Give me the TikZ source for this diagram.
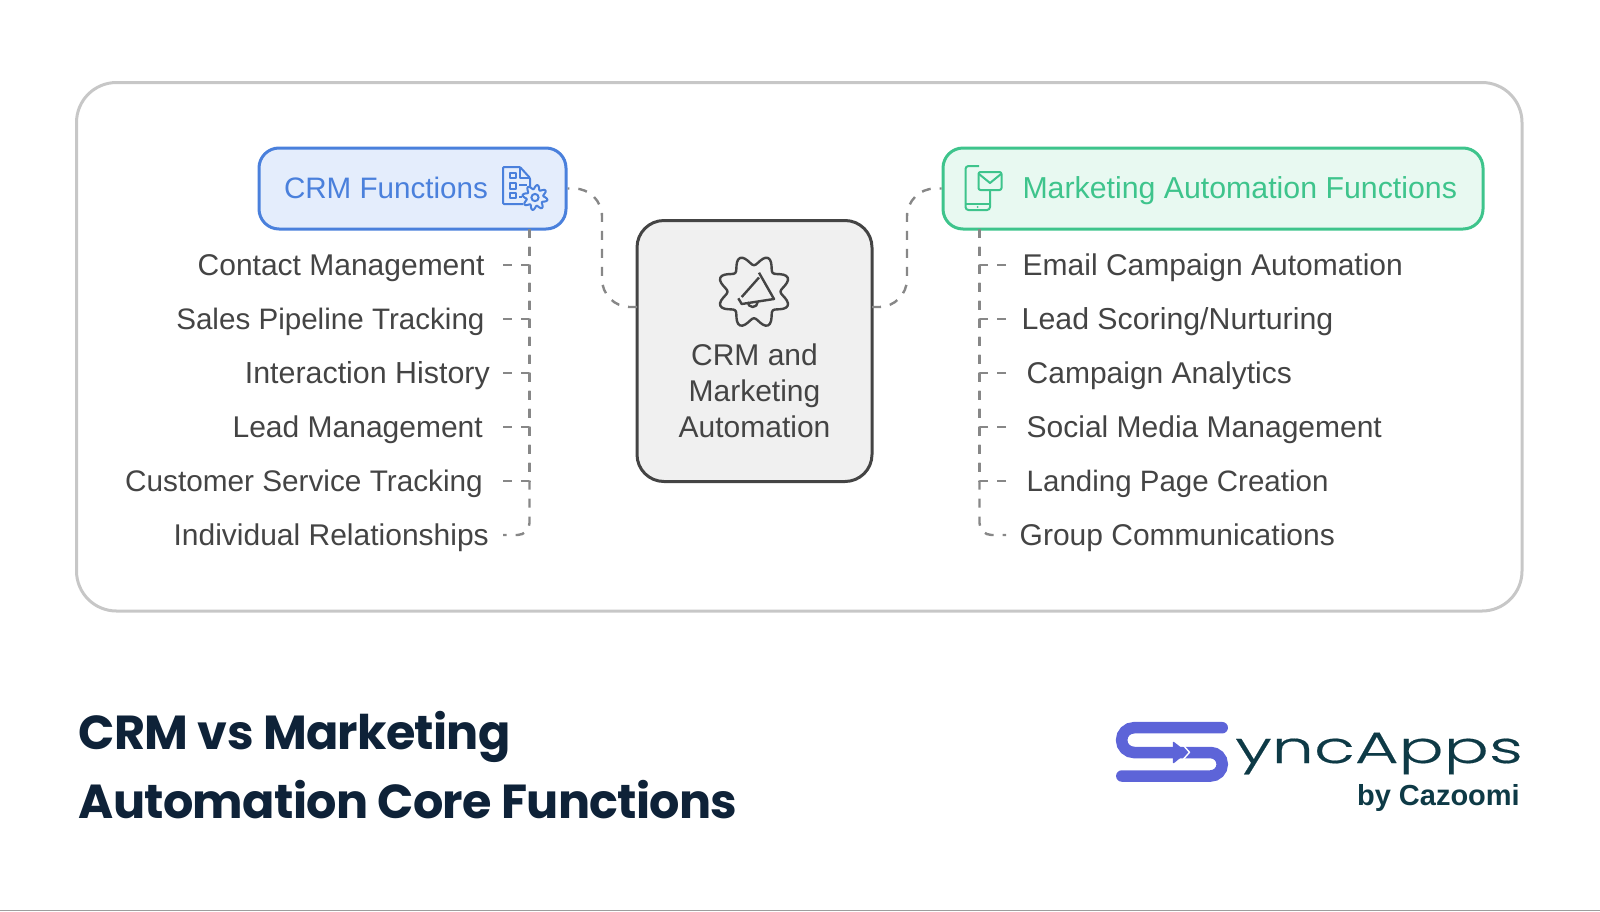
\documentclass[tikz,border=0pt]{standalone}
\usepackage{fontspec}
\setmainfont{Liberation Sans}
\newfontfamily\titlefont[LetterSpace=-1.5]{Poppins}
\newfontfamily\logofont[FakeStretch=1.52,FakeBold=0.4]{Poppins Light}
\definecolor{crmblue}{HTML}{4A80DC}
\definecolor{crmfill}{HTML}{E4EDFC}
\definecolor{mktgreen}{HTML}{3EC48C}
\definecolor{mktfill}{HTML}{E8F9F1}
\definecolor{hubfill}{HTML}{F0F0F0}
\definecolor{ink}{HTML}{444444}
\definecolor{navy}{HTML}{0E2238}
\definecolor{teal}{HTML}{0E3A46}
\definecolor{logoblue}{HTML}{5D64D8}
\begin{document}
\begin{tikzpicture}[x=1pt,y=-1pt]
  \tikzset{
      every node/.append style = {
          font = \fontsize{30}{36}\selectfont
      },
      fs/.style = {
          font = \fontsize{#1}{36}\selectfont
      },
      frame/.style = {
          draw = black!22, line width = 3pt, rounded corners = 40pt
      },
      link/.style = {
          draw = black!47, line width = 2.4pt, dash pattern = on 9pt off 9pt
      },
      elbow/.style = {
          to path = {-| (\tikztotarget)}
      },
      crmbox/.style = {
          draw = crmblue, fill = crmfill, text = crmblue, line width = 3pt,
          rounded corners = 20pt, minimum height = 81pt, inner xsep = 25pt,
          text width = 257pt, align = flush left, text height = 25pt, text depth = 5pt,
          fs = 29.6
      },
      mktbox/.style = {
          draw = mktgreen, fill = mktfill, text = mktgreen, line width = 3pt,
          rounded corners = 20pt, minimum height = 81pt, inner xsep = 26pt,
          text width = 488pt, align = flush right, text height = 25pt, text depth = 5pt,
          fs = 30.3
      },
      hubbox/.style = {
          draw = ink, fill = hubfill, line width = 3pt, rounded corners = 27pt,
          minimum width = 235pt, minimum height = 261pt
      },
      item/.style = {
          text = ink, text height = 25pt, text depth = 4pt, inner ysep = 0pt
      },
      itemleft/.style = {
          item, anchor = east, inner xsep = #1pt
      },
      itemright/.style = {
          item, anchor = west, inner xsep = #1pt
      },
      crmicon/.style = {
          draw = crmblue, line width = 2pt, line join = round
      },
      mkticon/.style = {
          draw = mktgreen, line width = 2pt, line join = round
      },
      hubicon/.style = {
          draw = ink, line width = 2.4pt, line join = round
      }
  }
  \useasboundingbox (0,0) rectangle (1600,911);
  \draw[black!38, line width = 1.5pt] (0,910.3) -- (1600,910.3);
  \draw[frame] (76.5,82.5) rectangle (1522,611);

  \node[hubbox] (hub) at (754.5,351) {};
  \node[crmbox] (crm) at (412.5,188.5) {CRM Functions};
  \node[mktbox] (mkt) at (1213,188.5) {Marketing Automation Functions};
  \node[text = ink, align = flush center, inner sep = 0pt] (hubtext) at (754.5,391)
      {CRM and\\Marketing\\Automation};

  \node[itemleft=18.3] (c1) at (503,265) {Contact Management};
  \node[itemleft=18.3, fs = 29.6] (c2) at (503,319) {Sales Pipeline Tracking};
  \node[itemleft=13, fs = 30.4] (c3) at (503,373) {Interaction History};
  \node[itemleft=20] (c4) at (503,427) {Lead Management};
  \node[itemleft=20, fs = 29.75] (c5) at (503,481) {Customer Service Tracking};
  \node[itemleft=14] (c6) at (503,535) {Individual Relationships};

  \node[itemright=16.5] (m1) at (1006,265) {Email Campaign Automation};
  \node[itemright=15.5, fs = 30.3] (m2) at (1006,319) {Lead Scoring/Nurturing};
  \node[itemright=20.5] (m3) at (1006,373) {Campaign Analytics};
  \node[itemright=20.5] (m4) at (1006,427) {Social Media Management};
  \node[itemright=20.5, fs = 29.5] (m5) at (1006,481) {Landing Page Creation};
  \node[itemright=13.5] (m6) at (1006,535) {Group Communications};

  \coordinate (crmfoot) at (529.5,229);
  \coordinate (mktfoot) at (979.5,229);
  \coordinate (hubl) at (637,307);
  \coordinate (hubr) at (872,307);

  \path (c1.east) edge[link, elbow] (crmfoot);
  \path (c2.east) edge[link, elbow] (crmfoot);
  \path (c3.east) edge[link, elbow] (crmfoot);
  \path (c4.east) edge[link, elbow] (crmfoot);
  \path (c5.east) edge[link, elbow] (crmfoot);
  \path (c6.east) edge[link, elbow, rounded corners = 12pt, dash phase = 5.5pt] (crmfoot);
  \path (m1.west) edge[link, elbow] (mktfoot);
  \path (m2.west) edge[link, elbow] (mktfoot);
  \path (m3.west) edge[link, elbow] (mktfoot);
  \path (m4.west) edge[link, elbow] (mktfoot);
  \path (m5.west) edge[link, elbow] (mktfoot);
  \path (m6.west) edge[link, elbow, rounded corners = 12pt, dash phase = 5.5pt] (mktfoot);
  \draw[link, rounded corners = 28pt] (hubl) -- ++(-35,0) |- (crm.east);
  \draw[link, rounded corners = 28pt] (hubr) -- ++(35,0) |- (mkt.west);

  % icons
  \draw[crmicon, rounded corners = 1pt] (523,204) -- (503,204) -- (503,167) -- (520,167) -- (530,178) -- (530,187);
  \draw[crmicon] (520,167) -- (520,178) -- (530,178);
  \draw[crmicon] (509.5,173) rectangle (515.5,178);
  \draw[crmicon] (509.5,183) rectangle (515.5,189);
  \draw[crmicon] (509.5,193) rectangle (515.5,198);
  \draw[crmicon] (519,185) -- (527,185);
  \draw[crmicon] (519,197) -- (522,197);
  \draw[crmicon, fill = crmfill] plot[domain = 0:360, samples = 65, smooth] ({535+(10.5+2.2*sin(8*\x))*cos(\x)},{197.5+(10.5+2.2*sin(8*\x))*sin(\x)}) -- cycle;
  \draw[crmicon] (535,197.5) circle (3.6);

  \draw[mkticon, rounded corners = 3pt] (979,166) -- (965.5,166) -- (965.5,210) -- (990,210) -- (990,190);
  \draw[mkticon] (965.5,204) -- (990,204);
  \fill[mktgreen] (977.7,207) circle (1);
  \draw[mkticon, rounded corners = 2pt] (978.5,172) rectangle (1001.5,190);
  \draw[mkticon] (979,174) -- (990,183) -- (1001,174);

  \draw[hubicon] plot[domain = 0:360, samples = 97, smooth] ({754+(31.5-5*cos(8*\x))*cos(\x)},{291.7+(31.5-5*cos(8*\x))*sin(\x)}) -- cycle;
  \draw[hubicon] (759,272.7) -- (774,299) -- (741.7,304) -- (738.3,298.3);
  \draw[hubicon] (759,277.5) -- (741.7,297);
  \draw[hubicon] (747.7,302) arc (180:0:5);

  % title
  \node[anchor = base west, inner sep = 0pt, text = navy, font = \titlefont\bfseries\fontsize{47.7}{56}\selectfont] (title1) at (78.5,749.5) {CRM vs Marketing};
  \node[anchor = base west, inner sep = 0pt, text = navy, font = \titlefont\bfseries\fontsize{47.7}{56}\selectfont] (title2) at (78.5,818) {Automation Core Functions};

  % logo
  \draw[logoblue, line width = 11.5pt, line cap = round] (1222.2,727.7) -- (1134,727.7) arc (270:90:12.4) -- (1210.5,752.5) arc (-90:90:11.75) -- (1121.8,776);
  \draw[white, line width = 1.4pt, line join = round] (1183.5,745.5) -- (1189.5,752.3) -- (1183.5,759);
  \fill[logoblue, draw = logoblue, line width = 1.5pt, line join = round] (1173.5,742.5) -- (1186,752.3) -- (1173.5,762.5) -- cycle;
  \node[anchor = base west, inner sep = 0pt, text = teal, font = \logofont\fontsize{44}{50}\selectfont] (logoname) at (1235,763) {yncApps};
  \node[anchor = base east, inner sep = 0pt, text = teal, font = \bfseries\fontsize{29}{30}\selectfont] (logoby) at (1520,805) {by Cazoomi};
\end{tikzpicture}
\end{document}
